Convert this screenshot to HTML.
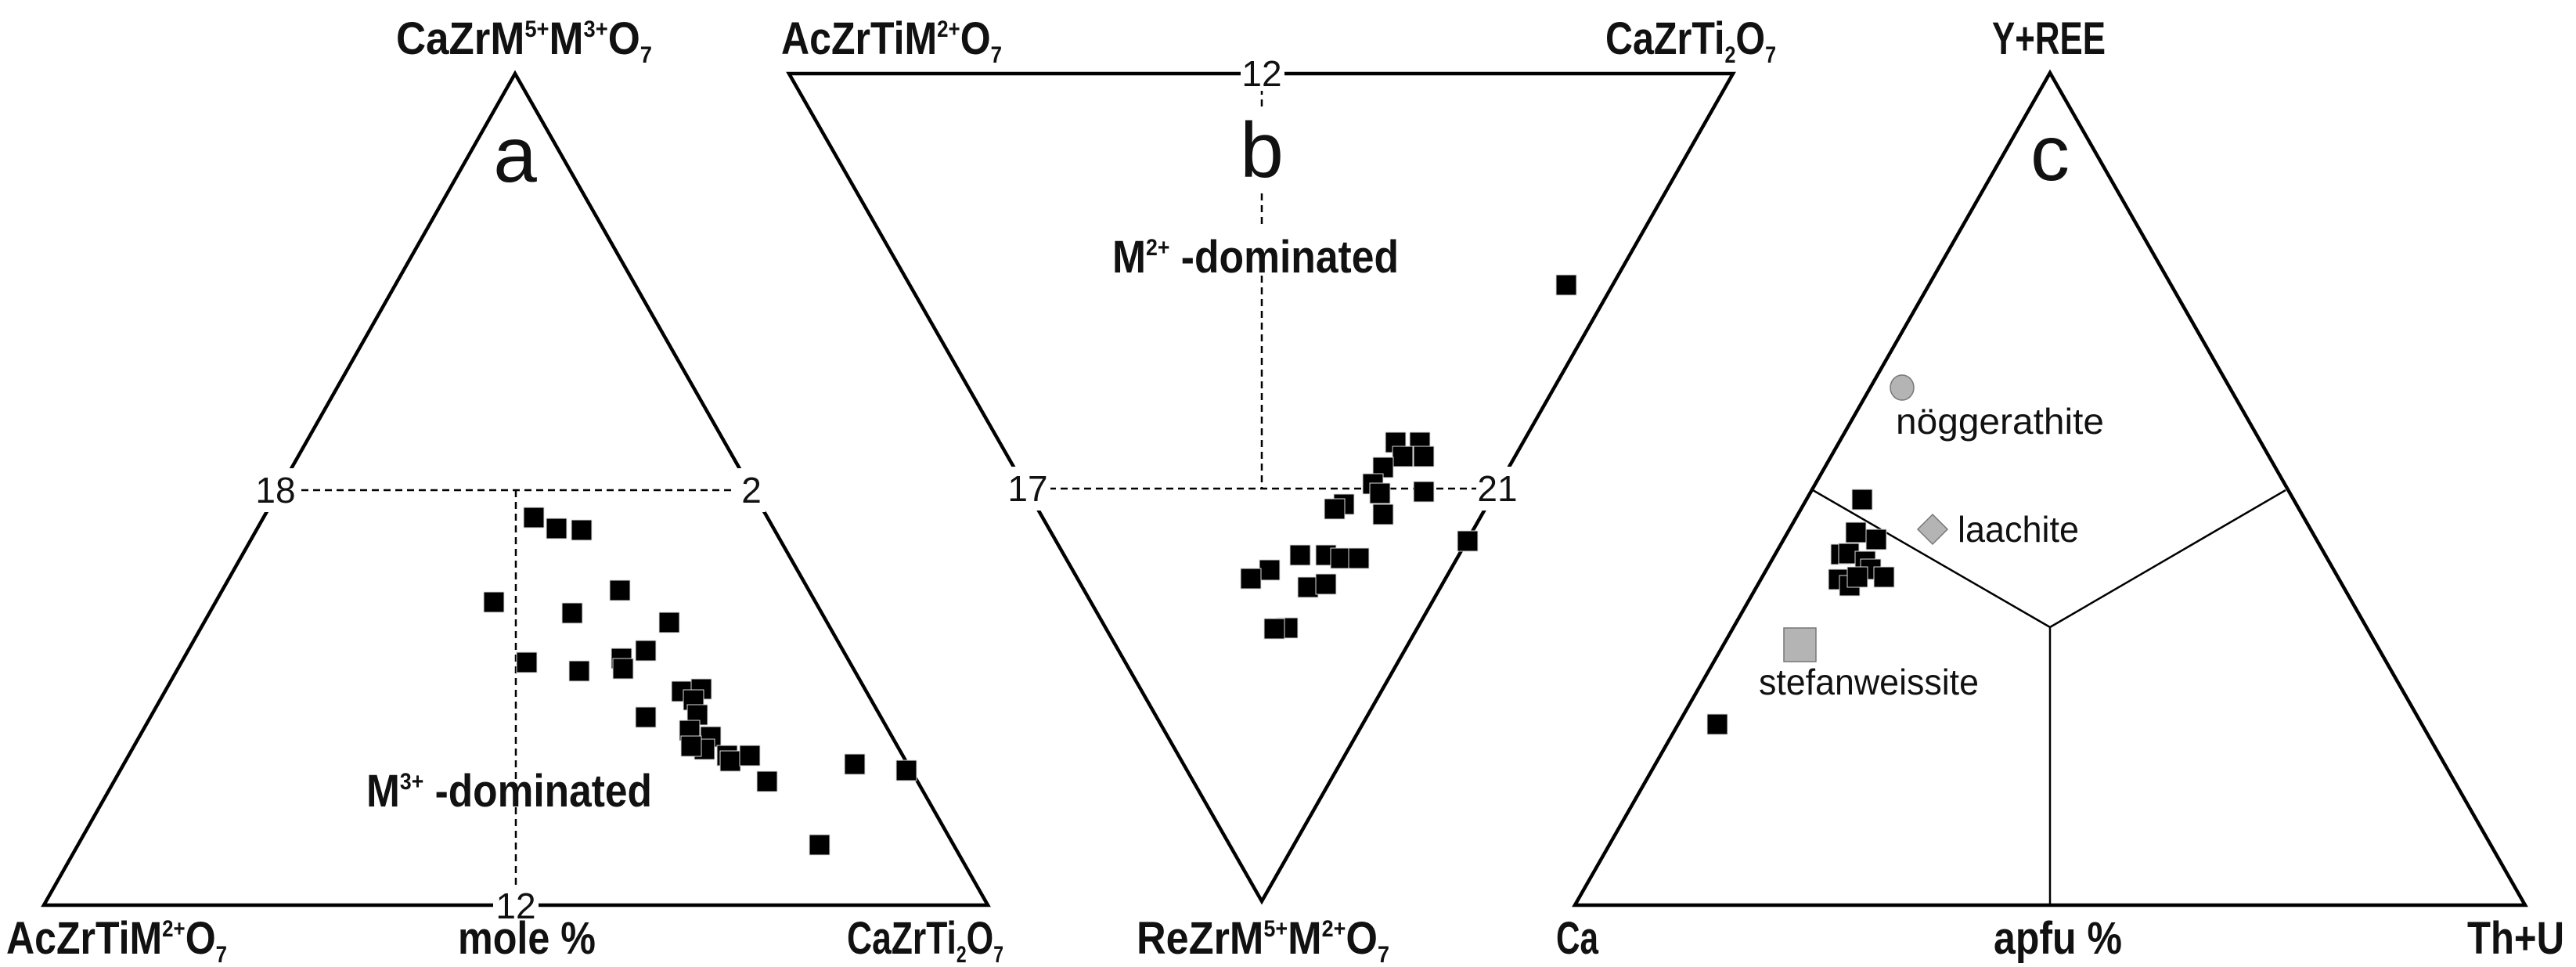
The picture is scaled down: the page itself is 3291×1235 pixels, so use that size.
<!DOCTYPE html>
<html><head><meta charset="utf-8"><style>
html,body{margin:0;padding:0;background:#fff;}
svg{display:block;}
.lb{font-family:"Liberation Sans",sans-serif;font-weight:bold;font-size:58px;fill:#111;}
.nm{font-family:"Liberation Sans",sans-serif;font-size:46px;fill:#111;}
.big{font-family:"Liberation Sans",sans-serif;font-size:100px;fill:#111;}
</style></head><body>
<svg width="3291" height="1235" viewBox="0 0 3291 1235" xmlns="http://www.w3.org/2000/svg">
<rect width="3291" height="1235" fill="#fff"/>
<g fill="none" stroke="#000" stroke-width="4.5" stroke-linejoin="miter">
<polygon points="658,94 56,1156 1262,1156"/>
<polygon points="1008,94 2214,94 1612,1151"/>
<polygon points="2619,93 2012,1156 3226,1156"/>
</g>
<g stroke="#000" stroke-width="2.5" fill="none">
<line x1="2619" y1="801" x2="2316" y2="626"/>
<line x1="2619" y1="801" x2="2920" y2="626"/>
<line x1="2619" y1="801" x2="2619" y2="1156"/>
</g>
<g stroke="#000" stroke-width="2.5" stroke-dasharray="9 6" fill="none">
<line x1="385" y1="626" x2="940" y2="626"/>
<line x1="659" y1="626" x2="659" y2="1140"/>
<line x1="1340" y1="624" x2="1895" y2="624"/>
<line x1="1612" y1="112" x2="1612" y2="624"/>
</g>
<g fill="#fff">
<rect x="326" y="598" width="54" height="56"/>
<rect x="942" y="598" width="36" height="56"/>
<rect x="630" y="1136" width="58" height="44"/>
<rect x="1286" y="596" width="56" height="56"/>
<rect x="1886" y="596" width="56" height="56"/>
<rect x="1585" y="74" width="56" height="42"/>
<rect x="1585" y="140" width="56" height="105"/>
<rect x="1580" y="290" width="70" height="60"/>
</g>
<g class="nm">
<text x="352" y="642" text-anchor="middle">18</text>
<text x="960" y="642" text-anchor="middle">2</text>
<text x="659" y="1173" text-anchor="middle">12</text>
<text x="1313" y="640" text-anchor="middle">17</text>
<text x="1913" y="640" text-anchor="middle">21</text>
<text x="1612" y="110" text-anchor="middle">12</text>
</g>
<text class="big" x="658" y="232" text-anchor="middle">a</text>
<text class="big" x="1612" y="226" text-anchor="middle">b</text>
<text class="big" x="2619" y="230" text-anchor="middle">c</text>

<g class="lb">
<text x="506" y="69" textLength="327" lengthAdjust="spacingAndGlyphs">CaZrM<tspan font-size="30" dy="-22">5+</tspan><tspan dy="22">M</tspan><tspan font-size="30" dy="-22">3+</tspan><tspan dy="22">O</tspan><tspan font-size="30" dy="11">7</tspan></text>
<text x="8" y="1218" textLength="282" lengthAdjust="spacingAndGlyphs">AcZrTiM<tspan font-size="30" dy="-22">2+</tspan><tspan dy="22">O</tspan><tspan font-size="30" dy="11">7</tspan></text>
<text x="585" y="1218" textLength="176" lengthAdjust="spacingAndGlyphs">mole %</text>
<text x="1082" y="1218" textLength="200" lengthAdjust="spacingAndGlyphs">CaZrTi<tspan font-size="30" dy="11">2</tspan><tspan dy="-11">O</tspan><tspan font-size="30" dy="11">7</tspan></text>
<text x="468" y="1030" textLength="365" lengthAdjust="spacingAndGlyphs">M<tspan font-size="30" dy="-22">3+</tspan><tspan dy="22"> -dominated</tspan></text>

<text x="998" y="69" textLength="282" lengthAdjust="spacingAndGlyphs">AcZrTiM<tspan font-size="30" dy="-22">2+</tspan><tspan dy="22">O</tspan><tspan font-size="30" dy="11">7</tspan></text>
<text x="2051" y="69" textLength="218" lengthAdjust="spacingAndGlyphs">CaZrTi<tspan font-size="30" dy="11">2</tspan><tspan dy="-11">O</tspan><tspan font-size="30" dy="11">7</tspan></text>
<text x="1452" y="1218" textLength="323" lengthAdjust="spacingAndGlyphs">ReZrM<tspan font-size="30" dy="-22">5+</tspan><tspan dy="22">M</tspan><tspan font-size="30" dy="-22">2+</tspan><tspan dy="22">O</tspan><tspan font-size="30" dy="11">7</tspan></text>
<text x="1421" y="348" textLength="366" lengthAdjust="spacingAndGlyphs">M<tspan font-size="30" dy="-22">2+</tspan><tspan dy="22"> -dominated</tspan></text>

<text x="2545" y="69" textLength="145" lengthAdjust="spacingAndGlyphs">Y+REE</text>
<text x="1988" y="1218" textLength="54" lengthAdjust="spacingAndGlyphs">Ca</text>
<text x="2547" y="1218" textLength="164" lengthAdjust="spacingAndGlyphs">apfu %</text>
<text x="3152" y="1218" textLength="124" lengthAdjust="spacingAndGlyphs">Th+U</text>
</g>
<g class="nm" font-size="50">
<text x="2422" y="554" textLength="266" lengthAdjust="spacingAndGlyphs">nöggerathite</text>
<text x="2501" y="692" textLength="155" lengthAdjust="spacingAndGlyphs">laachite</text>
<text x="2247" y="887" textLength="281" lengthAdjust="spacingAndGlyphs">stefanweissite</text>
</g>

<ellipse cx="2430" cy="495" rx="15" ry="16" fill="#b4b4b4" stroke="#777" stroke-width="1.5"/>
<polygon points="2469,657 2488,676 2469,695 2450,676" fill="#b4b4b4" stroke="#777" stroke-width="1.5"/>
<rect x="2279" y="802" width="41" height="43" fill="#b4b4b4" stroke="#777" stroke-width="1.5"/>

<g fill="#000" stroke="#ddd" stroke-width="1">
<rect x="669" y="648" width="26" height="26"/><rect x="698" y="662" width="26" height="26"/><rect x="730" y="664" width="26" height="26"/>
<rect x="618" y="756" width="26" height="26"/><rect x="779" y="741" width="26" height="26"/><rect x="718" y="770" width="26" height="26"/>
<rect x="842" y="782" width="26" height="26"/><rect x="660" y="833" width="26" height="26"/><rect x="727" y="844" width="26" height="26"/>
<rect x="781" y="828" width="26" height="26"/><rect x="783" y="841" width="26" height="26"/><rect x="812" y="818" width="26" height="26"/>
<rect x="858" y="870" width="26" height="26"/><rect x="883" y="867" width="26" height="26"/><rect x="873" y="881" width="26" height="26"/>
<rect x="812" y="903" width="26" height="26"/><rect x="878" y="900" width="26" height="26"/><rect x="868" y="920" width="26" height="26"/>
<rect x="895" y="928" width="26" height="26"/><rect x="887" y="944" width="26" height="26"/><rect x="870" y="940" width="26" height="26"/>
<rect x="916" y="952" width="26" height="26"/><rect x="920" y="959" width="26" height="26"/><rect x="945" y="952" width="26" height="26"/>
<rect x="967" y="985" width="26" height="26"/><rect x="1079" y="963" width="26" height="26"/><rect x="1145" y="971" width="26" height="26"/>
<rect x="1034" y="1066" width="26" height="26"/>
<rect x="1988" y="351" width="26" height="26"/>
<rect x="1770" y="552" width="26" height="26"/><rect x="1801" y="552" width="26" height="26"/><rect x="1779" y="570" width="26" height="26"/>
<rect x="1806" y="570" width="26" height="26"/><rect x="1754" y="584" width="26" height="26"/><rect x="1741" y="605" width="26" height="26"/>
<rect x="1750" y="617" width="26" height="26"/><rect x="1806" y="615" width="26" height="26"/><rect x="1754" y="644" width="26" height="26"/>
<rect x="1704" y="631" width="26" height="26"/><rect x="1692" y="637" width="26" height="26"/><rect x="1862" y="678" width="26" height="26"/>
<rect x="1648" y="696" width="26" height="26"/><rect x="1681" y="696" width="26" height="26"/><rect x="1700" y="700" width="26" height="26"/>
<rect x="1723" y="700" width="26" height="26"/><rect x="1609" y="715" width="26" height="26"/><rect x="1585" y="726" width="26" height="26"/>
<rect x="1658" y="737" width="26" height="26"/><rect x="1681" y="733" width="26" height="26"/><rect x="1632" y="789" width="26" height="26"/>
<rect x="1615" y="790" width="26" height="26"/>
<rect x="2366" y="625" width="26" height="26"/>
<rect x="2339" y="695" width="26" height="26"/><rect x="2349" y="694" width="26" height="26"/><rect x="2370" y="704" width="26" height="26"/>
<rect x="2377" y="714" width="26" height="26"/><rect x="2336" y="727" width="26" height="26"/><rect x="2350" y="735" width="26" height="26"/>
<rect x="2394" y="724" width="26" height="26"/><rect x="2360" y="724" width="26" height="26"/>
<rect x="2358" y="667" width="26" height="26"/><rect x="2384" y="676" width="26" height="26"/>
<rect x="2181" y="912" width="26" height="26"/>
</g>
</svg>
</body></html>
